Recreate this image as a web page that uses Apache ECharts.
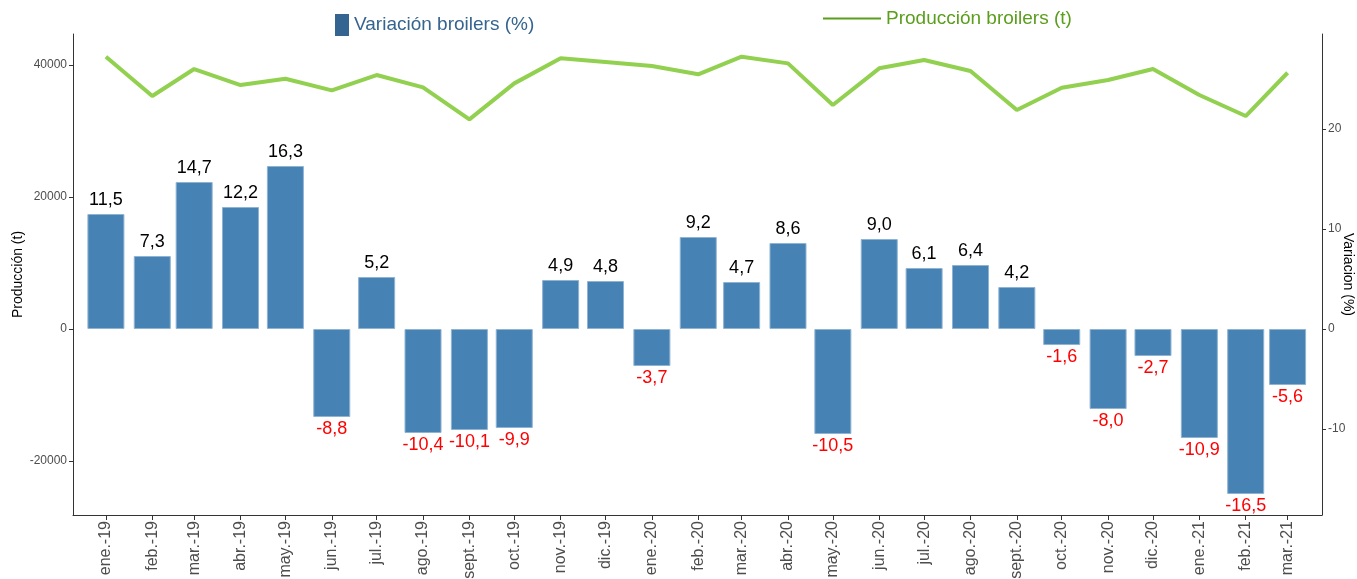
<!DOCTYPE html>
<html><head><meta charset="utf-8">
<script src="https://cdn.jsdelivr.net/npm/echarts@6/dist/echarts.min.js"></script>
<style>html,body{margin:0;padding:0;background:#fff}#c{width:1357px;height:579px}</style>
</head><body><div id="c"></div>
<script>
const dates = ['2019-01','2019-02','2019-03','2019-04','2019-05','2019-06','2019-07','2019-08','2019-09','2019-10','2019-11','2019-12',
  '2020-01','2020-02','2020-03','2020-04','2020-05','2020-06','2020-07','2020-08','2020-09','2020-10','2020-11','2020-12',
  '2021-01','2021-02','2021-03'];
const tickLabels = ['ene.-19','feb.-19','mar.-19','abr.-19','may.-19','jun.-19','jul.-19','ago.-19','sept.-19','oct.-19','nov.-19','dic.-19',
  'ene.-20','feb.-20','mar.-20','abr.-20','may.-20','jun.-20','jul.-20','ago.-20','sept.-20','oct.-20','nov.-20','dic.-20',
  'ene.-21','feb.-21','mar.-21'];
const variacion = [11.5,7.3,14.7,12.2,16.3,-8.8,5.2,-10.4,-10.1,-9.9,4.9,4.8,
  -3.7,9.2,4.7,8.6,-10.5,9.0,6.1,6.4,4.2,-1.6,-8.0,-2.7,
  -10.9,-16.5,-5.6];
const produccion = [41250,35300,39390,36970,37920,36160,38480,36620,31770,37220,41010,40450,
  39840,38590,41260,40250,33940,39500,40750,39090,33180,36560,37720,39390,
  35450,32270,38830];
const leftTicks = [-20000,0,20000,40000];
const rightTicks = [-10,0,10,20];

const DAY = 86400000;
const T0 = Date.UTC(2019, 0, 1);
// x position of each month, in days since 1 Jan 2019 (date scale)
const days = dates.map(d => { const [y,m] = d.split('-').map(Number); return Math.round((Date.UTC(y, m-1, 1) - T0) / DAY); });
const fmt = v => v.toFixed(1).replace('.', ',');
const axisCol = '#333333';
const FF = 'Liberation Sans, Arial, sans-serif';

const chart = echarts.init(document.getElementById('c'));
chart.setOption({
  animation: false,
  backgroundColor: '#fff',
  textStyle: {fontFamily: FF},
  grid: {left: 73, right: 35, top: 34, bottom: 64, containLabel: false, outerBoundsMode: 'none'},
  legend: [
    {left: 330, top: 9, icon: 'rect', itemWidth: 14, itemHeight: 22, itemGap: 6,
     data: [{name: 'Variación broilers (%)', itemStyle: {color: '#346590', borderWidth: 0}}],
     textStyle: {color: '#35648f', fontSize: 19, fontFamily: FF}},
    {left: 818, top: 4, icon: 'rect', itemWidth: 58, itemHeight: 2, itemGap: 5,
     data: [{name: 'Producción broilers (t)', itemStyle: {color: '#5a9e1c'}}],
     textStyle: {color: '#5a9e1c', fontSize: 19, fontFamily: FF}}
  ],
  xAxis: {
    type: 'value',
    min: days[0] - 22,
    max: days[days.length - 1] + 23,
    splitLine: {show: false},
    axisLine: {show: true, onZero: false, lineStyle: {color: axisCol, width: 1}},
    axisTick: {show: true, length: 5, lineStyle: {color: axisCol}, customValues: days},
    axisLabel: {
      customValues: days,
      rotate: 90, margin: 6, fontSize: 16, color: '#4d4d4d', hideOverlap: false,
      fontFamily: FF,
      formatter: v => { const i = days.indexOf(Math.round(v)); return i >= 0 ? tickLabels[i] : ''; }
    }
  },
  yAxis: [
    {
      type: 'value', min: -28180, max: 44700, position: 'left',
      name: 'Producción (t)', nameLocation: 'middle', nameGap: 48, nameRotate: 90, nameMoveOverlap: false,
      nameTextStyle: {fontSize: 14, color: '#000'},
      splitLine: {show: false},
      axisLine: {show: true, onZero: false, lineStyle: {color: axisCol}},
      axisTick: {show: true, length: 4, lineStyle: {color: axisCol}, customValues: leftTicks},
      axisLabel: {customValues: leftTicks, fontSize: 12, color: '#4d4d4d', margin: 6, formatter: v => String(v)}
    },
    {
      type: 'value', min: -18.6, max: 29.5, position: 'right',
      name: 'Variacion (%)', nameLocation: 'middle', nameGap: 19, nameRotate: -90, nameMoveOverlap: false,
      nameTextStyle: {fontSize: 14, color: '#000'},
      splitLine: {show: false},
      axisLine: {show: true, onZero: false, lineStyle: {color: axisCol}},
      axisTick: {show: true, length: 4, lineStyle: {color: axisCol}, customValues: rightTicks},
      axisLabel: {customValues: rightTicks, fontSize: 12, color: '#4d4d4d', margin: 6, formatter: v => String(v)}
    }
  ],
  series: [
    {
      name: 'Variación broilers (%)', type: 'bar', yAxisIndex: 1, barWidth: 37,
      itemStyle: {color: '#4682b4', borderColor: '#8fb3d3', borderWidth: 1},
      data: days.map((t, i) => ({
        value: [t, variacion[i]],
        label: variacion[i] >= 0
          ? {show: true, position: 'top', distance: 5, color: '#000', fontSize: 18, formatter: p => fmt(p.value[1])}
          : {show: true, position: 'bottom', distance: 3, color: '#ff0000', fontSize: 18, formatter: p => fmt(p.value[1])}
      })),
      z: 2
    },
    {
      name: 'Producción broilers (t)', type: 'line', yAxisIndex: 0,
      showSymbol: false, symbol: 'none',
      lineStyle: {color: '#92d050', width: 4},
      itemStyle: {color: '#92d050'},
      data: days.map((t, i) => [t, produccion[i]]),
      z: 3
    }
  ]
});
</script></body></html>
